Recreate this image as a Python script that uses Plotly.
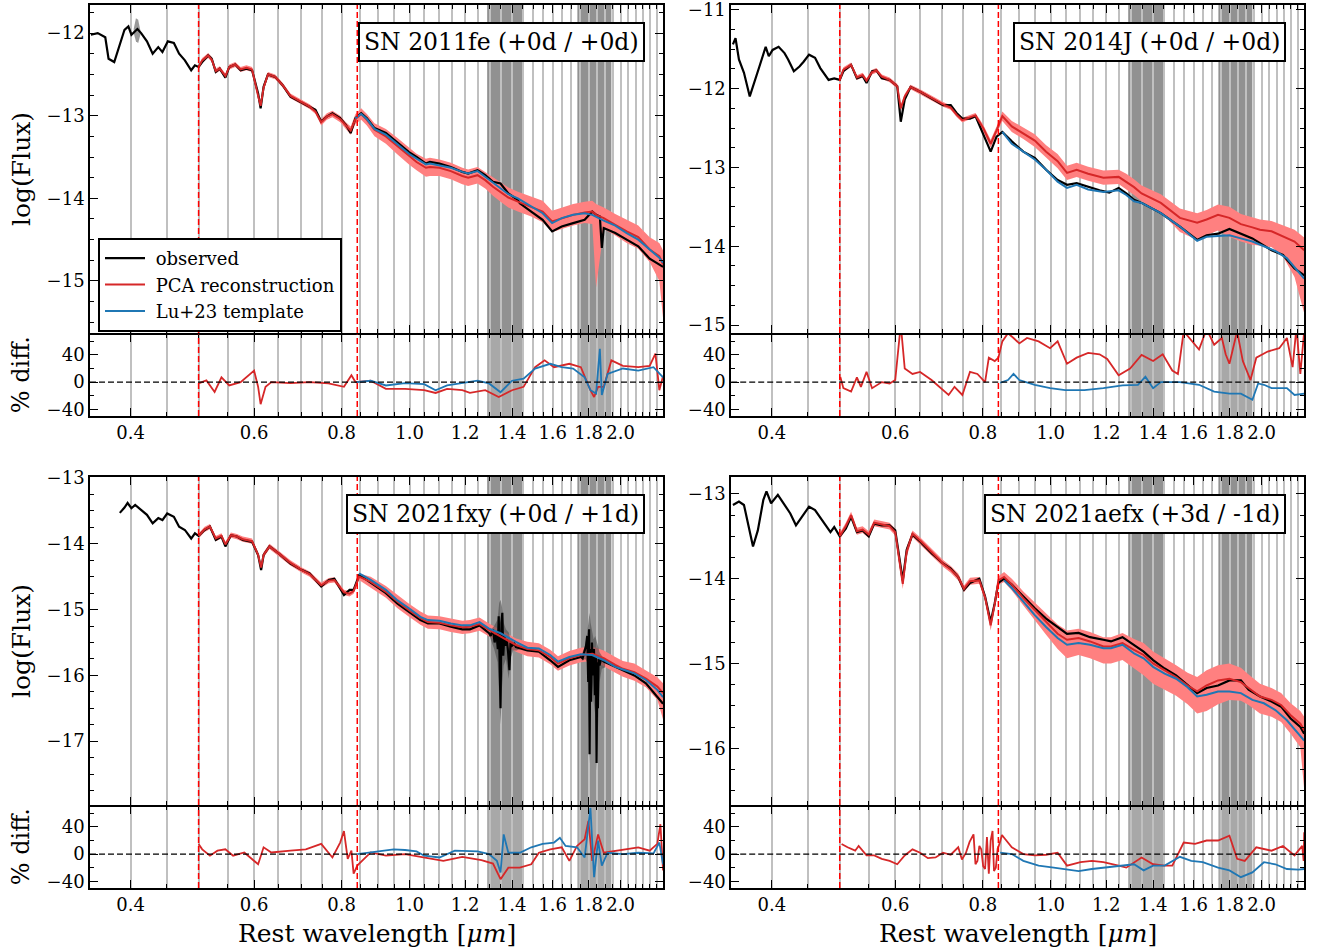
import math
import plotly.graph_objects as go

# ---------------------------------------------------------------- data
# wavelengths in micron, fluxes in log10(F_lambda), residuals in percent

# SN 2011fe
FE_OBS_WAVE = [0.351, 0.359, 0.368, 0.372, 0.379, 0.384, 0.392, 0.397, 0.401, 0.409, 0.414, 0.422, 0.430, 0.438,
               0.444, 0.452, 0.461, 0.469, 0.478, 0.488, 0.494, 0.500, 0.506, 0.516, 0.522, 0.529, 0.536, 0.546,
               0.553, 0.564, 0.574, 0.585, 0.596, 0.608, 0.613, 0.619, 0.628, 0.643, 0.659, 0.676, 0.698, 0.720,
               0.734, 0.748, 0.762, 0.776, 0.796, 0.811, 0.824, 0.837, 0.853, 0.869, 0.891, 0.925, 0.961, 0.998,
               1.023, 1.055, 1.069, 1.103, 1.145, 1.189, 1.212, 1.250, 1.282, 1.315, 1.348, 1.383, 1.427, 1.436,
               1.491, 1.548, 1.597, 1.648, 1.711, 1.777, 1.822, 1.845, 1.868, 1.880, 1.892, 1.965, 2.040, 2.119,
               2.200, 2.271, 2.299]
FE_OBS_FLUX = [-12.02, -12.00, -12.05, -12.31, -12.35, -12.20, -11.96, -11.92, -12.02, -11.95, -12.00, -12.10, -12.25,
               -12.17, -12.23, -12.10, -12.12, -12.25, -12.33, -12.45, -12.39, -12.41, -12.35, -12.27, -12.31, -12.47,
               -12.43, -12.54, -12.41, -12.38, -12.45, -12.43, -12.45, -12.73, -12.91, -12.65, -12.50, -12.53, -12.63,
               -12.77, -12.83, -12.89, -12.93, -13.07, -13.01, -12.97, -13.03, -13.11, -13.21, -13.03, -12.97, -13.03,
               -13.15, -13.21, -13.33, -13.44, -13.50, -13.58, -13.56, -13.58, -13.62, -13.68, -13.70, -13.66, -13.72,
               -13.80, -13.82, -13.94, -14.02, -14.06, -14.16, -14.26, -14.40, -14.34, -14.30, -14.26, -14.16, -14.20,
               -14.22, -14.60, -14.36, -14.42, -14.50, -14.58, -14.73, -14.81, -14.83]
FE_ERR_WAVE = [0.404, 0.407, 0.410, 0.413]
FE_ERR_HI = [-11.95, -11.82, -11.84, -11.97]
FE_ERR_LO = [-12.00, -12.10, -12.12, -12.02]
FE_PCA_WAVE = [0.500, 0.506, 0.516, 0.522, 0.529, 0.536, 0.546, 0.553, 0.564, 0.574, 0.585, 0.596, 0.608, 0.613,
               0.619, 0.628, 0.643, 0.659, 0.676, 0.698, 0.720, 0.734, 0.748, 0.762, 0.776, 0.796, 0.811, 0.824,
               0.837, 0.853, 0.869, 0.891, 0.925, 0.961, 0.998, 1.023, 1.055, 1.069, 1.103, 1.145, 1.189, 1.212,
               1.250, 1.282, 1.315, 1.348, 1.383, 1.427, 1.491, 1.548, 1.597, 1.648, 1.711, 1.777, 1.822, 1.845,
               1.892, 1.965, 2.040, 2.119, 2.200, 2.271, 2.299]
FE_PCA_FLUX = [-12.41, -12.33, -12.27, -12.32, -12.46, -12.43, -12.52, -12.41, -12.38, -12.44, -12.42, -12.44, -12.76,
               -12.88, -12.66, -12.50, -12.53, -12.63, -12.76, -12.83, -12.89, -12.95, -13.08, -13.01, -12.98, -13.04,
               -13.12, -13.18, -13.04, -12.98, -13.05, -13.17, -13.25, -13.37, -13.49, -13.56, -13.63, -13.62, -13.63,
               -13.67, -13.73, -13.75, -13.72, -13.78, -13.86, -13.92, -13.99, -14.04, -14.10, -14.16, -14.28, -14.24,
               -14.20, -14.17, -14.16, -14.20, -14.24, -14.32, -14.40, -14.47, -14.62, -14.70, -14.80]
FE_PCA_ERR_UP = [0.03, 0.03, 0.03, 0.03, 0.03, 0.03, 0.03, 0.03, 0.03, 0.03, 0.03, 0.03, 0.04, 0.04, 0.04, 0.03, 0.03,
                 0.03, 0.03, 0.03, 0.03, 0.03, 0.04, 0.04, 0.04, 0.04, 0.04, 0.05, 0.06,
                 0.07, 0.07, 0.08, 0.09, 0.10, 0.10, 0.10, 0.11, 0.11, 0.10, 0.10, 0.10, 0.10, 0.10, 0.10, 0.11, 0.12,
                 0.12, 0.12, 0.12, 0.13, 0.13, 0.13, 0.13, 0.13, 0.13, 0.13, 0.13, 0.13, 0.14, 0.14, 0.15, 0.16, 0.17]
FE_PCA_ERR_DN = [0.03, 0.03, 0.03, 0.03, 0.03, 0.03, 0.03, 0.03, 0.03, 0.03, 0.03, 0.03, 0.04, 0.04, 0.04, 0.03, 0.03,
                 0.03, 0.03, 0.03, 0.03, 0.03, 0.04, 0.04, 0.04, 0.04, 0.04, 0.05, 0.06,
                 0.07, 0.07, 0.08, 0.09, 0.10, 0.10, 0.10, 0.11, 0.11, 0.10, 0.10, 0.10, 0.10, 0.10, 0.10, 0.11, 0.12,
                 0.12, 0.12, 0.12, 0.13, 0.13, 0.13, 0.13, 0.13, 0.15, 0.88, 0.13, 0.13, 0.14, 0.14, 0.15, 0.30, 0.65]
FE_TPL_WAVE = [0.837, 0.853, 0.869, 0.891, 0.925, 0.961, 0.998, 1.023, 1.055, 1.069, 1.103, 1.145, 1.189, 1.212,
               1.250, 1.282, 1.315, 1.348, 1.383, 1.427, 1.491, 1.548, 1.597, 1.648, 1.711, 1.777, 1.822, 1.892,
               1.965, 2.040, 2.119, 2.200, 2.271, 2.299]
FE_TPL_FLUX = [-13.03, -12.98, -13.04, -13.16, -13.23, -13.35, -13.46, -13.52, -13.59, -13.58, -13.60, -13.63, -13.68,
               -13.70, -13.67, -13.74, -13.82, -13.88, -13.95, -14.00, -14.10, -14.18, -14.30, -14.24, -14.20, -14.18,
               -14.20, -14.27, -14.33, -14.42, -14.50, -14.62, -14.72, -14.78]
FE_RES_PCA_WAVE = [0.500, 0.513, 0.527, 0.539, 0.553, 0.574, 0.600, 0.608, 0.613, 0.623, 0.635, 0.676, 0.720, 0.766,
                   0.806, 0.826, 0.837, 0.880, 0.925, 0.985, 1.049, 1.089, 1.131, 1.189, 1.219, 1.282, 1.340, 1.400,
                   1.454, 1.510, 1.558, 1.607, 1.690, 1.755, 1.811, 1.833, 1.857, 1.892, 1.940, 2.015, 2.119, 2.200,
                   2.242, 2.271, 2.299]
FE_RES_PCA = [-2, 2.5, -14.6, 7, -5, 0, 17, -7, -32.5, -7, 0, -1.5, 0, -2, -7, 10, 0, 2, -10, -10, -12, -16, -10, -12,
              -16, -12, -22, -12, -7, 22, 32, 22, 27, 22, -12, -22, -7, -7, 32, 24, 22, 24, 42, -12, 9]
FE_RES_TPL_WAVE = [0.840, 0.880, 0.925, 0.985, 1.049, 1.089, 1.131, 1.189, 1.250, 1.298, 1.348, 1.400, 1.454, 1.510,
                   1.587, 1.648, 1.711, 1.777, 1.811, 1.845, 1.868, 1.880, 1.916, 2.015, 2.119, 2.228, 2.299]
FE_RES_TPL = [0, 2, -5, -1.5, -3, -12, -5, -1.5, 2, -2, -15, 2, 5, 20, 27, 22, 20, 7, -12, -17, 49, -19, 12, 20, 17,
              22, 7]

# SN 2014J
JJ_OBS_WAVE = [0.352, 0.355, 0.359, 0.365, 0.372, 0.379, 0.384, 0.392, 0.396, 0.401, 0.409, 0.417, 0.422, 0.430,
               0.438, 0.444, 0.452, 0.461, 0.469, 0.482, 0.491, 0.500, 0.506, 0.519, 0.529, 0.539, 0.546, 0.556,
               0.564, 0.574, 0.589, 0.604, 0.611, 0.619, 0.631, 0.651, 0.676, 0.702, 0.720, 0.734, 0.748, 0.767,
               0.781, 0.801, 0.821, 0.837, 0.853, 0.880, 0.914, 0.949, 0.985, 1.023, 1.055, 1.089, 1.131, 1.174,
               1.212, 1.250, 1.282, 1.315, 1.348, 1.436, 1.529, 1.618, 1.669, 1.733, 1.799, 1.868, 1.940, 1.989,
               2.066, 2.145, 2.228, 2.300]
JJ_OBS_FLUX = [-11.44, -11.36, -11.63, -11.80, -12.10, -11.89, -11.72, -11.47, -11.59, -11.51, -11.47, -11.55, -11.63,
               -11.78, -11.72, -11.66, -11.57, -11.61, -11.74, -11.89, -11.87, -11.89, -11.78, -11.70, -11.87, -11.84,
               -11.93, -11.78, -11.77, -11.87, -11.89, -11.97, -12.42, -12.14, -11.98, -12.04, -12.12, -12.21, -12.21,
               -12.31, -12.38, -12.38, -12.35, -12.57, -12.80, -12.61, -12.55, -12.67, -12.80, -12.88, -13.03, -13.16,
               -13.22, -13.20, -13.25, -13.29, -13.32, -13.26, -13.33, -13.41, -13.45, -13.58, -13.75, -13.92, -13.86,
               -13.84, -13.78, -13.84, -13.90, -13.96, -14.05, -14.11, -14.28, -14.37]
JJ_PCA_WAVE = [0.500, 0.506, 0.519, 0.529, 0.539, 0.546, 0.556, 0.564, 0.574, 0.589, 0.604, 0.611, 0.619, 0.631,
               0.651, 0.676, 0.702, 0.720, 0.734, 0.748, 0.767, 0.781, 0.801, 0.821, 0.837, 0.853, 0.880, 0.914,
               0.949, 0.985, 1.023, 1.055, 1.089, 1.131, 1.189, 1.250, 1.282, 1.315, 1.348, 1.436, 1.529, 1.618,
               1.669, 1.733, 1.799, 1.868, 1.940, 1.989, 2.066, 2.145, 2.228, 2.300]
JJ_PCA_FLUX = [-11.89, -11.76, -11.70, -11.86, -11.83, -11.90, -11.79, -11.77, -11.85, -11.89, -11.97, -12.25, -12.10,
               -11.98, -12.04, -12.12, -12.20, -12.24, -12.33, -12.40, -12.36, -12.34, -12.50, -12.70, -12.53, -12.35,
               -12.48, -12.57, -12.66, -12.80, -12.92, -13.07, -13.03, -13.08, -13.13, -13.12, -13.18, -13.25, -13.33,
               -13.45, -13.64, -13.70, -13.66, -13.60, -13.64, -13.72, -13.76, -13.79, -13.81, -13.87, -13.94, -14.05]
JJ_PCA_ERR_UP = [0.03, 0.03, 0.03, 0.03, 0.03, 0.03, 0.03, 0.03, 0.03, 0.03, 0.03, 0.04, 0.03, 0.03, 0.03, 0.03, 0.03,
                 0.03, 0.03, 0.03, 0.03, 0.03, 0.04, 0.05, 0.05,
                 0.06, 0.07, 0.07, 0.08, 0.08, 0.09, 0.09, 0.09, 0.09, 0.09, 0.09, 0.10, 0.10, 0.10, 0.11, 0.12, 0.12,
                 0.12, 0.13, 0.14, 0.13, 0.13, 0.13, 0.13, 0.14, 0.15, 0.16]
JJ_PCA_ERR_DN = [0.03, 0.03, 0.03, 0.03, 0.03, 0.03, 0.03, 0.03, 0.03, 0.03, 0.03, 0.04, 0.03, 0.03, 0.03, 0.03, 0.03,
                 0.03, 0.03, 0.03, 0.03, 0.03, 0.04, 0.05, 0.05,
                 0.06, 0.07, 0.07, 0.08, 0.08, 0.09, 0.09, 0.09, 0.09, 0.09, 0.09, 0.10, 0.10, 0.10, 0.12, 0.18, 0.22,
                 0.20, 0.20, 0.24, 0.22, 0.22, 0.20, 0.20, 0.26, 0.45, 0.80]
JJ_TPL_WAVE = [0.853, 0.880, 0.914, 0.949, 0.985, 1.023, 1.055, 1.089, 1.131, 1.189, 1.250, 1.282, 1.315, 1.348,
               1.436, 1.529, 1.618, 1.669, 1.733, 1.799, 1.868, 1.940, 2.015, 2.092, 2.172, 2.228, 2.300]
JJ_TPL_FLUX = [-12.55, -12.70, -12.80, -12.90, -13.03, -13.18, -13.26, -13.22, -13.28, -13.31, -13.29, -13.35, -13.43,
               -13.45, -13.58, -13.75, -13.93, -13.88, -13.87, -13.86, -13.90, -13.94, -14.00, -14.06, -14.15, -14.26,
               -14.41]
JJ_RES_PCA_WAVE = [0.501, 0.506, 0.519, 0.529, 0.536, 0.546, 0.556, 0.574, 0.589, 0.600, 0.611, 0.619, 0.635, 0.651,
                   0.676, 0.693, 0.715, 0.729, 0.748, 0.767, 0.786, 0.806, 0.816, 0.832, 0.842, 0.853, 0.869, 0.885,
                   0.902, 0.925, 0.961, 0.998, 1.023, 1.055, 1.089, 1.131, 1.174, 1.204, 1.250, 1.298, 1.348, 1.400,
                   1.445, 1.491, 1.519, 1.548, 1.578, 1.628, 1.669, 1.711, 1.755, 1.777, 1.799, 1.845, 1.880, 1.928,
                   1.965, 2.040, 2.119, 2.173, 2.214, 2.242, 2.271, 2.300]
JJ_RES_PCA = [7.6, -9, -14, 7, -7, 15, -9, 0, -2, 3, 85, 20, 12, 15, 3, -7, -19, -7, -19, 15, 12, 0, 36, 31, 36, 60,
              72, 65, 57, 65, 60, 50, 60, 27, 36, 43, 41, 34, 10, 20, 40, 31, 41, 17, 12, 75, 65, 48, 78, 55, 65, 41,
              27, 75, 31, 3, 36, 45, 50, 65, 22, 80, 12, 75]
JJ_RES_TPL_WAVE = [0.847, 0.869, 0.885, 0.902, 0.949, 0.998, 1.049, 1.117, 1.189, 1.266, 1.332, 1.365, 1.400, 1.436,
                   1.529, 1.628, 1.711, 1.799, 1.868, 1.940, 1.977, 2.015, 2.066, 2.173, 2.228, 2.300]
JJ_RES_TPL = [-1, 3, 12, 3, -4, -9, -12, -12, -9, -5, -4, 8, -9, 0, 0, -4, -14, -17, -17, -26, -2, -4, -9, -9, -19, -17]

# SN 2021fxy
FXY_OBS_WAVE = [0.386, 0.392, 0.396, 0.401, 0.406, 0.414, 0.422, 0.430, 0.438, 0.444, 0.451, 0.461, 0.469, 0.478,
                0.488, 0.494, 0.500, 0.510, 0.519, 0.529, 0.539, 0.546, 0.556, 0.567, 0.578, 0.596, 0.608, 0.614,
                0.619, 0.631, 0.651, 0.676, 0.702, 0.720, 0.748, 0.767, 0.781, 0.806, 0.821, 0.832, 0.847, 0.863,
                0.891, 0.925, 0.961, 0.998, 1.036, 1.062, 1.103, 1.145, 1.189, 1.219, 1.258, 1.298,
                1.305, 1.315, 1.322, 1.330, 1.336, 1.340, 1.344, 1.348, 1.352, 1.356, 1.360, 1.365, 1.370, 1.376,
                1.382, 1.388, 1.393, 1.400, 1.410,
                1.418, 1.472, 1.529, 1.587, 1.628, 1.690, 1.755, 1.765, 1.775, 1.785, 1.792,
                1.798, 1.803, 1.806, 1.810, 1.815, 1.820, 1.826, 1.832, 1.838, 1.844, 1.848, 1.852, 1.856, 1.860,
                1.866, 1.875,
                1.892, 1.965, 2.015, 2.092, 2.173, 2.256, 2.299]
FXY_OBS_FLUX = [-13.53, -13.45, -13.38, -13.46, -13.41, -13.49, -13.56, -13.69, -13.61, -13.64, -13.54, -13.59, -13.74,
                -13.79, -13.92, -13.84, -13.88, -13.79, -13.74, -13.94, -13.89, -14.04, -13.87, -13.89, -13.94, -13.97,
                -14.17, -14.40, -14.17, -14.04, -14.15, -14.30, -14.40, -14.45, -14.65, -14.55, -14.53, -14.78, -14.70,
                -14.70, -14.48, -14.53, -14.63, -14.75, -14.91, -15.03, -15.16, -15.21, -15.21, -15.26, -15.30, -15.30,
                -15.24, -15.36,
                -15.40, -15.30, -15.50, -15.35, -15.60, -15.10, -15.85, -16.50, -15.20, -15.05, -15.70, -15.40, -15.55,
                -15.45, -15.65, -15.92, -15.50, -15.55, -15.52,
                -15.57, -15.62, -15.64, -15.77, -15.87, -15.77, -15.72, -15.74, -15.65, -15.55, -15.40,
                -16.10, -15.30, -17.20, -15.60, -16.40, -15.50, -16.00, -15.60, -16.30, -15.70, -17.33, -15.80, -16.50,
                -15.75, -15.85, -15.75,
                -15.79, -15.87, -15.92, -16.00, -16.12, -16.33, -16.43]
FXY_ERR1_WAVE = [1.300, 1.320, 1.335, 1.342, 1.348, 1.354, 1.362, 1.372, 1.385, 1.392, 1.405, 1.420, 1.440]
FXY_ERR1_HI = [-15.33, -15.25, -15.15, -14.90, -14.85, -14.95, -15.20, -15.30, -15.35, -15.45, -15.48, -15.52, -15.54]
FXY_ERR1_LO = [-15.40, -15.60, -15.80, -16.30, -16.75, -16.20, -15.85, -15.75, -16.05, -15.75, -15.62, -15.62, -15.60]
FXY_ERR2_WAVE = [1.760, 1.780, 1.792, 1.800, 1.806, 1.812, 1.820, 1.830, 1.840, 1.848, 1.856, 1.866, 1.880, 1.900]
FXY_ERR2_HI = [-15.68, -15.55, -15.35, -15.10, -15.05, -15.20, -15.30, -15.45, -15.40, -15.50, -15.55, -15.65, -15.70,
               -15.78]
FXY_ERR2_LO = [-15.78, -15.75, -15.80, -16.40, -17.35, -16.60, -16.10, -16.40, -16.60, -17.45, -16.80, -16.10, -15.90,
               -15.88]
FXY_PCA_WAVE = [0.500, 0.510, 0.519, 0.529, 0.539, 0.546, 0.556, 0.567, 0.578, 0.596, 0.608, 0.614, 0.619, 0.631,
                0.651, 0.676, 0.702, 0.720, 0.748, 0.767, 0.781, 0.806, 0.821, 0.832, 0.847, 0.880, 0.925, 0.961,
                0.998, 1.036, 1.062, 1.103, 1.145, 1.189, 1.219, 1.258, 1.298, 1.348, 1.418, 1.472, 1.529, 1.587,
                1.628, 1.690, 1.755, 1.822, 1.892, 1.965, 2.015, 2.092, 2.173, 2.256, 2.299]
FXY_PCA_FLUX = [-13.88, -13.78, -13.74, -13.92, -13.88, -14.01, -13.87, -13.89, -13.93, -13.96, -14.17, -14.36, -14.17,
                -14.04, -14.15, -14.29, -14.40, -14.46, -14.63, -14.56, -14.55, -14.74, -14.76, -14.72, -14.50, -14.58,
                -14.73, -14.88, -15.01, -15.13, -15.19, -15.20, -15.24, -15.27, -15.26, -15.22, -15.31, -15.41, -15.54,
                -15.60, -15.62, -15.72, -15.82, -15.74, -15.69, -15.67, -15.74, -15.84, -15.90, -15.95, -16.05, -16.17,
                -16.27]
FXY_PCA_ERR_UP = [0.04, 0.04, 0.04, 0.04, 0.04, 0.04, 0.04, 0.04, 0.04, 0.04, 0.04, 0.04, 0.04, 0.04, 0.04, 0.04, 0.04,
                  0.04, 0.04, 0.04, 0.04, 0.04, 0.04, 0.04, 0.05,
                  0.08, 0.09, 0.10, 0.10, 0.10, 0.10, 0.10, 0.10, 0.10, 0.10, 0.10, 0.10, 0.10, 0.10, 0.11, 0.11, 0.11,
                  0.11, 0.11, 0.11, 0.11, 0.12, 0.12, 0.12, 0.13, 0.13, 0.14, 0.15]
FXY_PCA_ERR_DN = [0.04, 0.04, 0.04, 0.04, 0.04, 0.04, 0.04, 0.04, 0.04, 0.04, 0.04, 0.04, 0.04, 0.04, 0.04, 0.04, 0.04,
                  0.04, 0.04, 0.04, 0.04, 0.04, 0.04, 0.04, 0.05,
                  0.08, 0.09, 0.10, 0.10, 0.10, 0.10, 0.10, 0.10, 0.10, 0.10, 0.10, 0.10, 0.10, 0.10, 0.11, 0.11, 0.11,
                  0.11, 0.11, 0.11, 0.11, 0.12, 0.12, 0.12, 0.13, 0.13, 0.20, 0.40]
FXY_TPL_WAVE = [0.847, 0.880, 0.925, 0.961, 0.998, 1.036, 1.062, 1.103, 1.145, 1.189, 1.219, 1.258, 1.298, 1.348,
                1.418, 1.472, 1.529, 1.587, 1.628, 1.690, 1.755, 1.822, 1.892, 1.965, 2.015, 2.092, 2.173, 2.256,
                2.299]
FXY_TPL_FLUX = [-14.45, -14.55, -14.70, -14.86, -14.98, -15.11, -15.16, -15.17, -15.21, -15.24, -15.24, -15.19, -15.29,
                -15.36, -15.49, -15.58, -15.59, -15.69, -15.79, -15.72, -15.68, -15.69, -15.77, -15.87, -15.91, -15.97,
                -16.07, -16.22, -16.33]
FXY_RES_PCA_WAVE = [0.500, 0.506, 0.519, 0.532, 0.546, 0.560, 0.581, 0.608, 0.619, 0.635, 0.676, 0.711, 0.748, 0.776,
                    0.796, 0.806, 0.816, 0.826, 0.832, 0.842, 0.880, 0.925, 0.985, 1.049, 1.117, 1.189, 1.266, 1.315,
                    1.348, 1.383, 1.436, 1.491, 1.529, 1.587, 1.648, 1.690, 1.733, 1.777, 1.799, 1.822, 1.857, 1.892,
                    1.965, 2.040, 2.119, 2.200, 2.256, 2.279, 2.299]
FXY_RES_PCA = [15, 7, -2.4, 5, 7, -2.4, 2.4, -15, 10, 2.4, 5, 7, 15, -5, 17, 34, -7, 5, -29, -17, 2.4, -2.4, 0, -5, -10,
               -4, -9, -14, -37, -20, -20, -15, 2, 7, 10, -10, 12, 22, 49, -10, 29, 2, 5, 7, 10, 5, 15, 44, -24]
FXY_RES_TPL_WAVE = [0.842, 0.880, 0.925, 0.949, 0.985, 1.023, 1.049, 1.103, 1.160, 1.204, 1.250, 1.298, 1.332, 1.348,
                    1.362, 1.383, 1.436, 1.491, 1.548, 1.607, 1.638, 1.669, 1.733, 1.777, 1.811, 1.833, 1.857, 1.880,
                    1.916, 2.015, 2.119, 2.228, 2.271, 2.299]
FXY_RES_TPL = [0, 2.4, 5, 7, 6, 4, -2.4, -5, 5, 5, 4, 0, -10, -27, 29, 2, 2, 10, 15, 17, 24, 12, 10, -5, 68, -34, 20,
               -17, 2, 0, 2, 1, 17, -15]

# SN 2021aefx
AE_OBS_WAVE = [0.352, 0.359, 0.365, 0.370, 0.376, 0.382, 0.389, 0.393, 0.399, 0.408, 0.417, 0.425, 0.433, 0.441,
               0.452, 0.461, 0.472, 0.485, 0.491, 0.500, 0.510, 0.519, 0.529, 0.539, 0.550, 0.560, 0.574, 0.589,
               0.600, 0.608, 0.615, 0.623, 0.635, 0.651, 0.676, 0.702, 0.720, 0.738, 0.752, 0.767, 0.791, 0.806,
               0.821, 0.832, 0.842, 0.858, 0.880, 0.914, 0.949, 0.985, 1.023, 1.055, 1.096, 1.138, 1.189, 1.219,
               1.266, 1.315, 1.357, 1.400, 1.454, 1.510, 1.568, 1.618, 1.669, 1.733, 1.799, 1.868, 1.916, 1.989,
               2.066, 2.132, 2.200, 2.271, 2.300]
AE_OBS_FLUX = [-13.13, -13.09, -13.13, -13.35, -13.62, -13.43, -13.07, -12.97, -13.11, -13.01, -13.13, -13.23, -13.37,
               -13.27, -13.15, -13.19, -13.31, -13.45, -13.39, -13.50, -13.41, -13.27, -13.45, -13.43, -13.50, -13.35,
               -13.37, -13.37, -13.43, -13.74, -14.02, -13.66, -13.48, -13.56, -13.70, -13.82, -13.88, -13.98, -14.13,
               -14.05, -14.00, -14.21, -14.51, -14.29, -14.05, -14.00, -14.07, -14.21, -14.35, -14.47, -14.57, -14.65,
               -14.64, -14.69, -14.72, -14.74, -14.69, -14.78, -14.86, -14.96, -15.06, -15.14, -15.26, -15.35, -15.29,
               -15.26, -15.20, -15.20, -15.31, -15.39, -15.45, -15.51, -15.65, -15.75, -15.83]
AE_PCA_WAVE = [0.500, 0.510, 0.519, 0.529, 0.539, 0.550, 0.560, 0.574, 0.589, 0.600, 0.608, 0.615, 0.623, 0.635,
               0.651, 0.676, 0.702, 0.720, 0.738, 0.752, 0.767, 0.791, 0.806, 0.821, 0.832, 0.842, 0.858, 0.880,
               0.914, 0.949, 0.985, 1.023, 1.055, 1.096, 1.138, 1.189, 1.219, 1.266, 1.315, 1.357, 1.400, 1.454,
               1.510, 1.568, 1.618, 1.669, 1.733, 1.799, 1.868, 1.916, 1.989, 2.066, 2.132, 2.200, 2.271, 2.300]
AE_PCA_FLUX = [-13.50, -13.38, -13.25, -13.44, -13.42, -13.48, -13.34, -13.36, -13.38, -13.45, -13.78, -14.06, -13.68,
               -13.47, -13.55, -13.69, -13.82, -13.89, -13.98, -14.12, -14.03, -14.02, -14.22, -14.55, -14.30, -14.02,
               -13.98, -14.07, -14.23, -14.37, -14.51, -14.65, -14.72, -14.70, -14.74, -14.80, -14.80, -14.76, -14.84,
               -14.90, -15.00, -15.08, -15.16, -15.26, -15.33, -15.26, -15.20, -15.18, -15.22, -15.29, -15.39, -15.43,
               -15.49, -15.61, -15.71, -15.79]
AE_PCA_ERR_UP = [0.04, 0.04, 0.04, 0.04, 0.04, 0.04, 0.04, 0.04, 0.04, 0.04, 0.06, 0.06, 0.06, 0.04, 0.04, 0.04, 0.04,
                 0.04, 0.04, 0.04, 0.04, 0.04, 0.04, 0.06, 0.05, 0.05,
                 0.06, 0.07, 0.08, 0.09, 0.10, 0.11, 0.11, 0.11, 0.11, 0.11, 0.11, 0.12, 0.13, 0.14, 0.14, 0.14, 0.14,
                 0.15, 0.17, 0.18, 0.18, 0.18, 0.17, 0.16, 0.15, 0.14, 0.14, 0.14, 0.15, 0.16]
AE_PCA_ERR_DN = [0.04, 0.04, 0.04, 0.04, 0.04, 0.04, 0.04, 0.04, 0.04, 0.04, 0.06, 0.06, 0.06, 0.04, 0.04, 0.04, 0.04,
                 0.04, 0.04, 0.04, 0.04, 0.04, 0.04, 0.06, 0.05, 0.05,
                 0.06, 0.07, 0.09, 0.12, 0.15, 0.18, 0.22, 0.20, 0.20, 0.20, 0.20, 0.20, 0.22, 0.24, 0.24, 0.23, 0.22,
                 0.22, 0.26, 0.30, 0.28, 0.25, 0.22, 0.20, 0.20, 0.20, 0.20, 0.22, 0.28, 0.70]
AE_TPL_WAVE = [0.858, 0.880, 0.914, 0.949, 0.985, 1.023, 1.055, 1.096, 1.138, 1.189, 1.219, 1.266, 1.315, 1.357,
               1.400, 1.454, 1.510, 1.568, 1.618, 1.669, 1.733, 1.799, 1.868, 1.940, 2.015, 2.092, 2.173, 2.256, 2.300]
AE_TPL_FLUX = [-14.02, -14.11, -14.27, -14.43, -14.57, -14.70, -14.78, -14.76, -14.78, -14.82, -14.82, -14.78, -14.88,
               -14.94, -15.04, -15.12, -15.18, -15.28, -15.39, -15.37, -15.33, -15.33, -15.35, -15.43, -15.47, -15.55,
               -15.67, -15.83, -15.91]
AE_RES_PCA_WAVE = [0.503, 0.513, 0.526, 0.532, 0.546, 0.560, 0.574, 0.589, 0.604, 0.619, 0.635, 0.651, 0.668, 0.685,
                   0.702, 0.720, 0.738, 0.747, 0.757, 0.766, 0.776, 0.781, 0.786, 0.791, 0.796, 0.801, 0.806, 0.811,
                   0.816, 0.821, 0.826, 0.830, 0.835, 0.840, 0.845, 0.852, 0.858, 0.880, 0.914, 0.949, 0.985, 1.023,
                   1.055, 1.103, 1.145, 1.189, 1.250, 1.282, 1.348, 1.400, 1.454, 1.491, 1.548, 1.607, 1.669, 1.733,
                   1.799, 1.845, 1.892, 1.965, 2.066, 2.145, 2.228, 2.285, 2.296, 2.300]
AE_RES_PCA = [15, 10, 5, 12, -2, -2, -7, -10, -15, -2, 7, 2, -6, -5, 2, -1, 10, -8, 2, 18, 29, -15, -10, 12, 7, -18,
              -22, 25, -29, 20, 34, -25, -20, 8, 15, 28, 24, 10, 0, -2, -1, 2, -17, -12, -10, -12, -17, -20, -5, -15,
              -17, -17, 17, 15, 20, 20, 27, -7, -10, 10, 5, 12, -2, 12, -10, 32]
AE_RES_TPL_WAVE = [0.847, 0.880, 0.914, 0.961, 1.010, 1.049, 1.096, 1.145, 1.189, 1.250, 1.315, 1.357, 1.400, 1.454,
                   1.529, 1.587, 1.648, 1.733, 1.799, 1.868, 1.940, 2.015, 2.092, 2.173, 2.256, 2.300]
AE_RES_TPL = [2, 0, -10, -17, -20, -22, -25, -22, -20, -17, -15, -24, -17, -17, -4, -10, -12, -20, -24, -34, -27, -12,
              -15, -22, -23, -22]

# axis settings shared by all panels
TICK_WAVES = [0.4, 0.6, 0.8, 1.0, 1.2, 1.4, 1.6, 1.8, 2.0]
TICK_TEXT = ["0.4", "0.6", "0.8", "1.0", "1.2", "1.4", "1.6", "1.8", "2.0"]
WAVE_MIN, WAVE_MAX = 0.35, 2.30
TELLURIC = [(1.29, 1.45), (1.735, 1.94)]
PCA_LIMITS = [0.50, 0.842]

PANELS = [
    dict(name="SN 2011fe (+0d / +0d)", col=0, row=0, yrange=[-15.63, -11.66],
         obs=(FE_OBS_WAVE, FE_OBS_FLUX), err=[(FE_ERR_WAVE, FE_ERR_HI, FE_ERR_LO)],
         pca=(FE_PCA_WAVE, FE_PCA_FLUX, FE_PCA_ERR_UP, FE_PCA_ERR_DN), tpl=(FE_TPL_WAVE, FE_TPL_FLUX),
         rpca=(FE_RES_PCA_WAVE, FE_RES_PCA), rtpl=(FE_RES_TPL_WAVE, FE_RES_TPL)),
    dict(name="SN 2014J (+0d / +0d)", col=1, row=0, yrange=[-15.10, -10.94],
         obs=(JJ_OBS_WAVE, JJ_OBS_FLUX), err=[],
         pca=(JJ_PCA_WAVE, JJ_PCA_FLUX, JJ_PCA_ERR_UP, JJ_PCA_ERR_DN), tpl=(JJ_TPL_WAVE, JJ_TPL_FLUX),
         rpca=(JJ_RES_PCA_WAVE, JJ_RES_PCA), rtpl=(JJ_RES_TPL_WAVE, JJ_RES_TPL)),
    dict(name="SN 2021fxy (+0d / +1d)", col=0, row=1, yrange=[-17.97, -12.985],
         obs=(FXY_OBS_WAVE, FXY_OBS_FLUX),
         err=[(FXY_ERR1_WAVE, FXY_ERR1_HI, FXY_ERR1_LO), (FXY_ERR2_WAVE, FXY_ERR2_HI, FXY_ERR2_LO)],
         pca=(FXY_PCA_WAVE, FXY_PCA_FLUX, FXY_PCA_ERR_UP, FXY_PCA_ERR_DN), tpl=(FXY_TPL_WAVE, FXY_TPL_FLUX),
         rpca=(FXY_RES_PCA_WAVE, FXY_RES_PCA), rtpl=(FXY_RES_TPL_WAVE, FXY_RES_TPL)),
    dict(name="SN 2021aefx (+3d / -1d)", col=1, row=1, yrange=[-16.67, -12.80],
         obs=(AE_OBS_WAVE, AE_OBS_FLUX), err=[],
         pca=(AE_PCA_WAVE, AE_PCA_FLUX, AE_PCA_ERR_UP, AE_PCA_ERR_DN), tpl=(AE_TPL_WAVE, AE_TPL_FLUX),
         rpca=(AE_RES_PCA_WAVE, AE_RES_PCA), rtpl=(AE_RES_TPL_WAVE, AE_RES_TPL)),
]

# ---------------------------------------------------------------- layout geometry (paper fractions)
W, H = 1318, 951
COL_X = [(90.0 / W, 663.2 / W), (731.2 / W, 1304.2 / W)]
ROW_MAIN = [(1 - 333.0 / H, 1 - 5.0 / H), (1 - 805.0 / H, 1 - 477.0 / H)]
# residual panels start just under the shared frame line so both lines coincide
ROW_RES = [(1 - 416.0 / H, 1 - 334.6 / H), (1 - 888.0 / H, 1 - 806.6 / H)]

FONT = "DejaVu Serif"
RED = "#d62728"
BLUE = "#1f77b4"
BAND = "#ff8080"
GRID = "#c0c0c0"
TICK_FONT = dict(family=FONT, size=18, color="black")

LOG_MIN, LOG_MAX = math.log10(WAVE_MIN), math.log10(WAVE_MAX)


def xfrac(w):
    return (math.log10(w) - LOG_MIN) / (LOG_MAX - LOG_MIN)


minor_waves = [round(0.35 + 0.05 * i, 2) for i in range(40)]

fig = go.Figure()
layout = dict(width=W, height=H, autosize=False,
              margin=dict(l=0, r=0, t=0, b=0, pad=0, autoexpand=False),
              paper_bgcolor="white", plot_bgcolor="white", showlegend=True,
              font=dict(family=FONT, color="black", size=18))
shapes, annotations = [], []


def xaxis_cfg(domain, anchor, labels):
    return dict(domain=domain, anchor=anchor, type="log", range=[LOG_MIN, LOG_MAX], automargin=False,
                tickmode="array", tickvals=TICK_WAVES, ticktext=TICK_TEXT, showticklabels=labels,
                tickangle=0, ticks="inside", ticklen=8, tickwidth=1.3, tickcolor="black",
                mirror="allticks", showline=True, linecolor="black", linewidth=1.6,
                showgrid=True, gridcolor=GRID, gridwidth=2, zeroline=False,
                tickfont=TICK_FONT, ticklabeloverflow="allow",
                minor=dict(tickmode="array", tickvals=minor_waves, ticks="inside", ticklen=4,
                           tickwidth=1.1, tickcolor="black", showgrid=True, gridcolor=GRID, gridwidth=2))


for i, p in enumerate(PANELS):
    m, r = 2 * i + 1, 2 * i + 2
    xm, ym = ("x" if m == 1 else f"x{m}"), ("y" if m == 1 else f"y{m}")
    xr, yr = f"x{r}", f"y{r}"
    xd = COL_X[p["col"]]
    layout["xaxis" if m == 1 else f"xaxis{m}"] = xaxis_cfg(xd, ym, False)
    layout[f"xaxis{r}"] = xaxis_cfg(xd, yr, True)
    layout["yaxis" if m == 1 else f"yaxis{m}"] = dict(
        domain=ROW_MAIN[p["row"]], anchor=xm, range=p["yrange"], dtick=1, tick0=0, automargin=False,
        ticks="inside", ticklen=8, tickwidth=1.3, tickcolor="black", mirror="allticks",
        showline=True, linecolor="black", linewidth=1.6, showgrid=False, zeroline=False,
        tickfont=TICK_FONT, ticklabeloverflow="allow",
        minor=dict(dtick=0.25, tick0=0, ticks="inside", ticklen=4, tickwidth=1.1, tickcolor="black"))
    layout[f"yaxis{r}"] = dict(
        domain=ROW_RES[p["row"]], anchor=xr, range=[-50, 70], tickmode="array", tickvals=[-40, 0, 40],
        automargin=False,
        ticks="inside", ticklen=8, tickwidth=1.3, tickcolor="black", mirror="allticks",
        showline=True, linecolor="black", linewidth=1.6, showgrid=False, zeroline=False,
        tickfont=TICK_FONT, ticklabeloverflow="allow",
        minor=dict(tickmode="array", tickvals=[-20, 20, 60], ticks="inside", ticklen=4, tickwidth=1.1,
                   tickcolor="black"))

    # telluric windows, shaded under the grid
    for (a, b) in TELLURIC:
        for xa, ya, col in ((xm, ym, "#919191"), (xr, yr, "#a8a8a8")):
            shapes.append(dict(type="rect", xref=f"{xa} domain", yref=f"{ya} domain",
                               x0=xfrac(a), x1=xfrac(b), y0=0, y1=1, fillcolor=col,
                               line=dict(width=0), layer="below"))
    # limits of the PCA reconstruction
    for w in PCA_LIMITS:
        for xa, ya in ((xm, ym), (xr, yr)):
            shapes.append(dict(type="line", xref=f"{xa} domain", yref=f"{ya} domain",
                               x0=xfrac(w), x1=xfrac(w), y0=0, y1=1,
                               line=dict(color="red", width=1.5, dash="6px,3px"), layer="above"))
    # zero line of the residual panel
    shapes.append(dict(type="line", xref=f"{xr} domain", yref=yr, x0=0, x1=1, y0=0, y1=0,
                       line=dict(color="black", width=1.3, dash="6px,3px"), layer="above"))

    # PCA uncertainty band
    pw, pf, pu, pdn = p["pca"]
    upper = [f + u for f, u in zip(pf, pu)]
    lower = [f - d for f, d in zip(pf, pdn)]
    fig.add_trace(go.Scatter(x=pw + pw[::-1], y=upper + lower[::-1], fill="toself", fillcolor=BAND,
                             line=dict(width=0), mode="lines", showlegend=False, hoverinfo="skip",
                             xaxis=xm, yaxis=ym))
    # observed uncertainty
    for (ew, eh, el) in p["err"]:
        fig.add_trace(go.Scatter(x=ew + ew[::-1], y=eh + el[::-1], fill="toself",
                                 fillcolor="rgba(70,70,70,0.55)", line=dict(width=0), mode="lines",
                                 showlegend=False, hoverinfo="skip", xaxis=xm, yaxis=ym))
    first = i == 0
    ow, of = p["obs"]
    fig.add_trace(go.Scatter(x=ow, y=of, mode="lines", line=dict(color="black", width=2.2),
                             name="\u00a0observed", showlegend=first, legendrank=1, xaxis=xm, yaxis=ym))
    fig.add_trace(go.Scatter(x=pw, y=pf, mode="lines", line=dict(color=RED, width=2),
                             name="\u00a0PCA reconstruction", showlegend=first, legendrank=2,
                             xaxis=xm, yaxis=ym))
    tw, tf = p["tpl"]
    fig.add_trace(go.Scatter(x=tw, y=tf, mode="lines", line=dict(color=BLUE, width=2),
                             name="\u00a0Lu+23 template", showlegend=first, legendrank=3, xaxis=xm, yaxis=ym))
    # residuals
    rw, rv = p["rpca"]
    fig.add_trace(go.Scatter(x=rw, y=rv, mode="lines", line=dict(color=RED, width=1.8),
                             showlegend=False, xaxis=xr, yaxis=yr))
    bw, bv = p["rtpl"]
    fig.add_trace(go.Scatter(x=bw, y=bv, mode="lines", line=dict(color=BLUE, width=1.8),
                             showlegend=False, xaxis=xr, yaxis=yr))

    # object label
    annotations.append(dict(text=p["name"], xref=f"{xm} domain", yref=f"{ym} domain",
                            x=1 - 18 / 573, y=1 - 17 / 328, xanchor="right", yanchor="top", showarrow=False,
                            font=dict(family=FONT, size=23.5, color="black"), bgcolor="white",
                            bordercolor="black", borderwidth=2, borderpad=4))

# axis titles
for row in range(2):
    annotations.append(dict(text="log(Flux)", xref="paper", yref="paper", x=21 / W,
                            y=sum(ROW_MAIN[row]) / 2, textangle=-90, showarrow=False,
                            xanchor="center", yanchor="middle",
                            font=dict(family=FONT, size=25, color="black")))
    annotations.append(dict(text="% diff.", xref="paper", yref="paper", x=21 / W,
                            y=sum(ROW_RES[row]) / 2, textangle=-90, showarrow=False,
                            xanchor="center", yanchor="middle",
                            font=dict(family=FONT, size=24, color="black")))
for col in range(2):
    annotations.append(dict(text="Rest wavelength [<i>μm</i>]", xref="paper", yref="paper",
                            x=sum(COL_X[col]) / 2, y=1 - 933 / H, showarrow=False,
                            xanchor="center", yanchor="middle",
                            font=dict(family=FONT, size=25, color="black")))

layout["shapes"] = shapes
layout["annotations"] = annotations
layout["legend"] = dict(x=98 / W, y=1 - 238 / H, xanchor="left", yanchor="top", bgcolor="white",
                        bordercolor="black", borderwidth=2, font=dict(family=FONT, size=18, color="black"),
                        tracegroupgap=0, itemwidth=40)
fig.update_layout(**layout)
fig.write_html("out.html")
